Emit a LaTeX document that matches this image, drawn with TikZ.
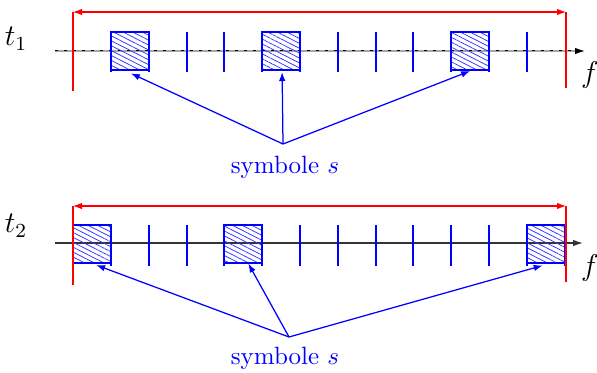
\documentclass[tikz,border=0pt]{standalone}
\usetikzlibrary{arrows.meta,patterns.meta,calc}
\begin{document}
\begin{tikzpicture}[x=0.4pt,y=-0.4pt,
  axisline/.style={line width=0.5pt,-{Latex[length=4pt,width=2.6pt]}},
  tickline/.style={blue,line width=0.75pt},
  symbox/.style={draw=blue,line width=0.8pt,minimum width=15.2pt,minimum height=15.2pt,
    inner sep=0pt,pattern={Lines[angle=-27,distance=1.75pt,line width=0.3pt]},pattern color=blue!80},
  band/.style={red,line width=0.45pt},
  bandarrow/.style={band,{Latex[length=3.6pt,width=2.6pt]}-{Latex[length=3.6pt,width=2.6pt]}},
  pointer/.style={blue,line width=0.5pt,-{Latex[length=3.6pt,width=2.6pt]}},
  lbl/.style={text=blue},
]
\useasboundingbox (0,0) rectangle (597,372);

% ---------- first instant ----------
\node[font=\large] (t1) at (16,39) {$t_1$};
\node[font=\large] (f1) at (590,75) {$f$};
\draw[gray!70,line width=0.8pt] (55,51) -- (580,51);
\draw[line width=0.4pt,dash pattern=on 1.2pt off 2.4pt] (55,51) -- (580,51);
\draw[axisline] (575,51) -- (585,51);
\foreach \k in {0,...,11}
  \draw[tickline] (111+37.8*\k,32) -- (111+37.8*\k,72.5);
\node[symbox] (a1) at (129.9,51) {};
\node[symbox] (a2) at (281.1,51) {};
\node[symbox] (a3) at (470.1,51) {};
\draw[bandarrow] (73,12) -- (566,12);
\draw[band] (73,12) -- (73,91);
\draw[band] (566,12) -- (566,88);
\node[lbl] (s1) at (285,167) {symbole $s$};
\coordinate (h1) at (283,144);
\draw[pointer] (h1) -- ($(a1.south)+(1,3)$);
\draw[pointer] (h1) -- ($(a2.south)+(1,1)$);
\draw[pointer] (h1) -- (a3.south);

% ---------- second instant ----------
\node[font=\large] (t2) at (16,226) {$t_2$};
\node[font=\large] (f2) at (590,268) {$f$};
\draw[axisline,draw=black!80] (55,243) -- (583,243);
\foreach \j in {0,...,13}
  \draw[tickline] (73.2+37.8*\j,225) -- (73.2+37.8*\j,266);
\node[symbox] (b1) at (92.1,243.5) {};
\node[symbox] (b2) at (243.3,243.5) {};
\node[symbox] (b3) at (545.7,243.5) {};
\draw[bandarrow] (73,206) -- (566,206);
\draw[band] (73,206) -- (73,285);
\draw[band] (566,206) -- (566,282);
\node[lbl] (s2) at (285,358) {symbole $s$};
\coordinate (h2) at (289,337);
\draw[pointer] (h2) -- ($(b1.south)+(4,1.5)$);
\draw[pointer] (h2) -- ($(b2.south)+(5,0)$);
\draw[pointer] (h2) -- ($(b3.south)+(-3,2)$);
\end{tikzpicture}
\end{document}
